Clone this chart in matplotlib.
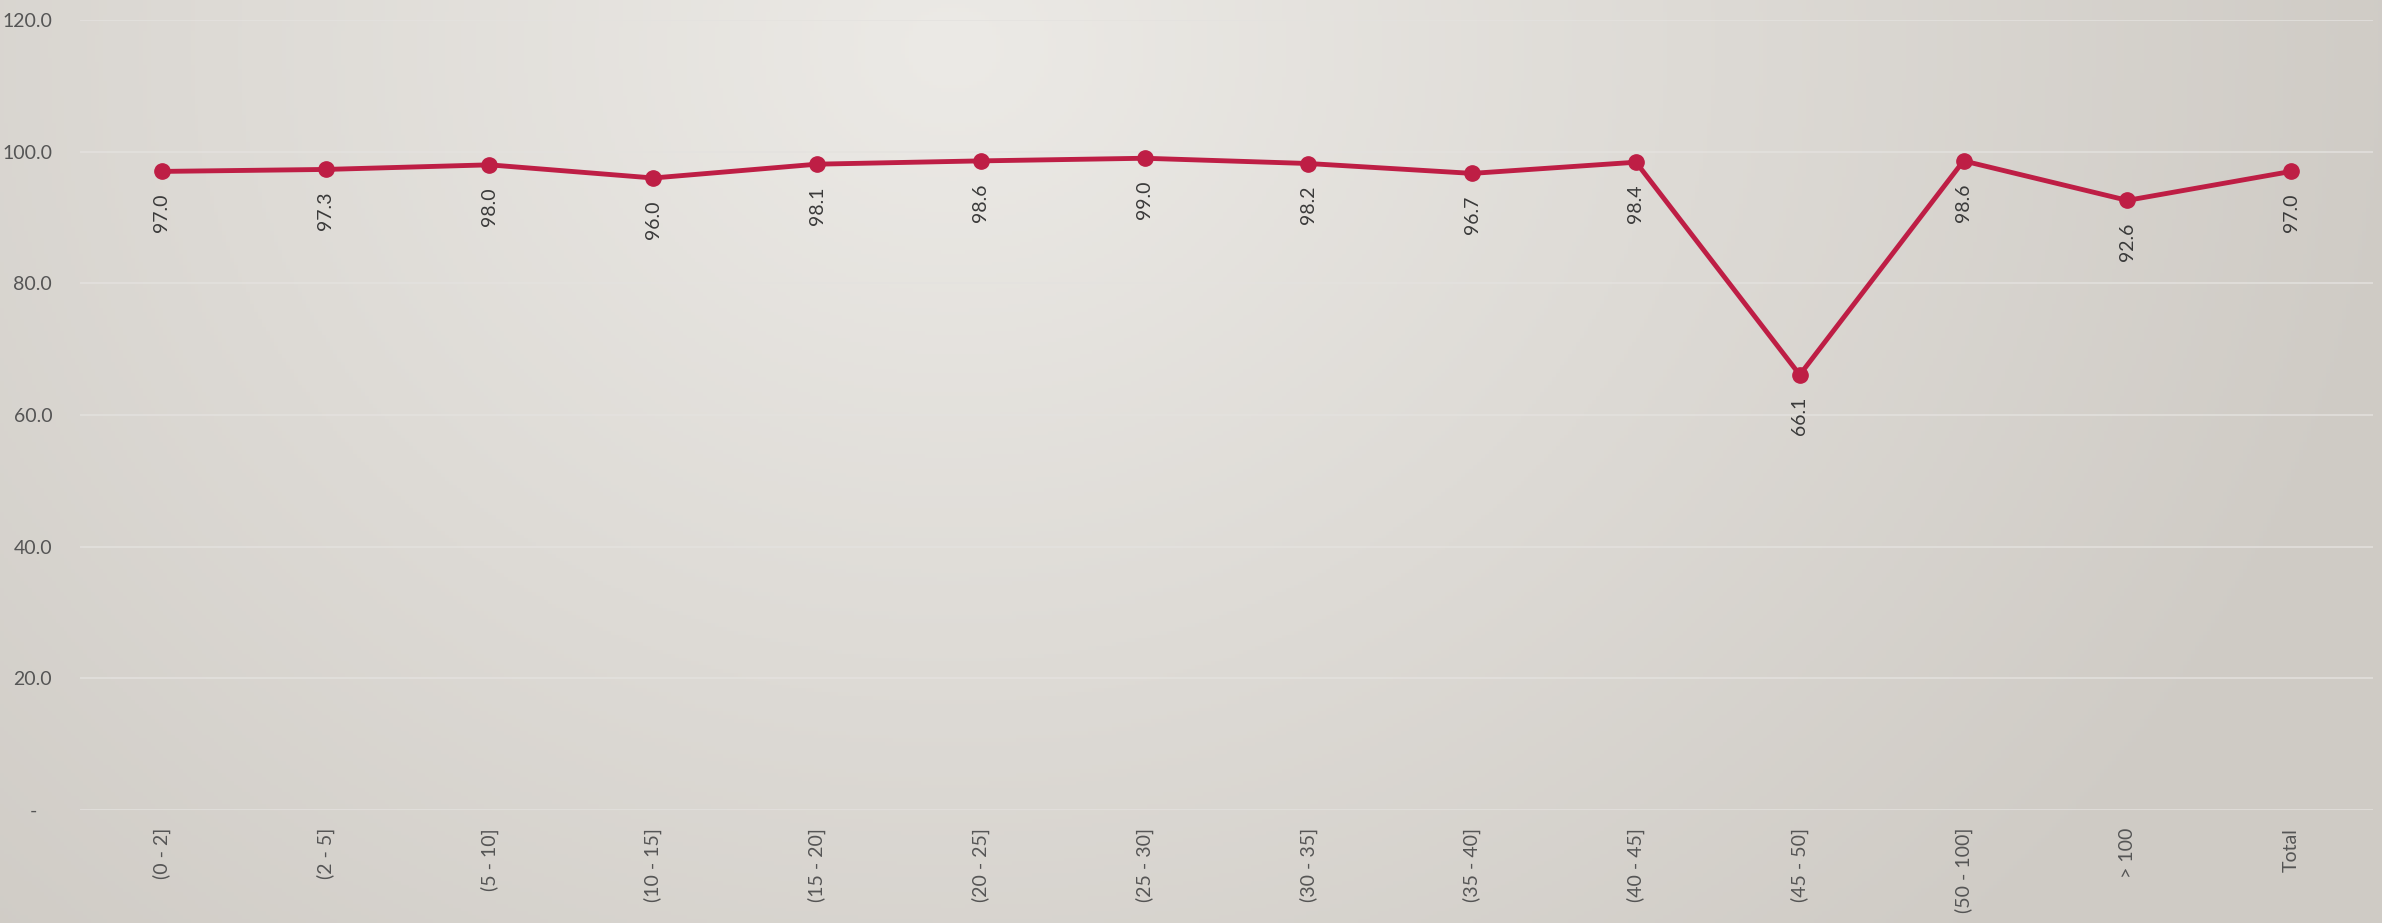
import numpy as np
import matplotlib
matplotlib.use('Agg')
import matplotlib.pyplot as plt

categories = ["(0 - 2]", "(2 - 5]", "(5 - 10]", "(10 - 15]", "(15 - 20]",
              "(20 - 25]", "(25 - 30]", "(30 - 35]", "(35 - 40]", "(40 - 45]",
              "(45 - 50]", "(50 - 100]", "> 100", "Total"]
values = [97.0, 97.3, 98.0, 96.0, 98.1, 98.6, 99.0, 98.2, 96.7, 98.4,
          66.1, 98.6, 92.6, 97.0]
y_ticks = [0, 20, 40, 60, 80, 100, 120]
y_tick_labels = ["-   ", "20.0", "40.0", "60.0", "80.0", "100.0", "120.0"]

plt.rcParams['font.family'] = ['Lato', 'DejaVu Sans']

fig = plt.figure(figsize=(23.82, 9.23), dpi=100)

# radial gradient background, lightest near the top centre-left
bg = fig.add_axes([0, 0, 1, 1], zorder=0)
gx, gy = np.meshgrid(np.linspace(0, 1, 600), np.linspace(0, 1, 240))
d = np.sqrt((gx - 0.4) ** 2 + ((gy - 0.95) * 0.45) ** 2)
d = np.clip(d / 0.62, 0, 1)
c0 = np.array([236, 234, 230]) / 255
c1 = np.array([207, 203, 197]) / 255
img = c0[None, None, :] * (1 - d[..., None]) + c1[None, None, :] * d[..., None]
bg.imshow(img, origin='lower', extent=[0, 1, 0, 1], aspect='auto')
bg.axis('off')

ax = fig.add_axes([80 / 2382, 113 / 923, 2293 / 2382, 790 / 923], zorder=1)
ax.patch.set_alpha(0)
x = np.arange(len(categories))
ax.plot(x, values, color='#BE1E45', lw=3.5, marker='o', ms=11, zorder=3)

for xi, v in zip(x, values):
    ax.annotate(f"{v:.1f}", (xi, v), xytext=(0, -16), textcoords='offset points',
                rotation=90, ha='center', va='top', fontsize=14, color='#3a3a3a')

ax.set_xlim(-0.5, len(categories) - 0.5)
ax.set_ylim(0, 120)
ax.set_yticks(y_ticks)
ax.set_yticklabels(y_tick_labels, fontsize=14, color='#555555')
ax.set_xticks(x)
ax.set_xticklabels(categories, rotation=90, fontsize=14, color='#555555', va='top')
ax.tick_params(axis='both', length=0)
ax.tick_params(axis='x', pad=13)
ax.tick_params(axis='y', pad=20)
ax.grid(axis='y', color='#E4E2DF', lw=1.3, alpha=0.8)
for s in ax.spines.values():
    s.set_visible(False)

fig.savefig("out.png", dpi=100)
